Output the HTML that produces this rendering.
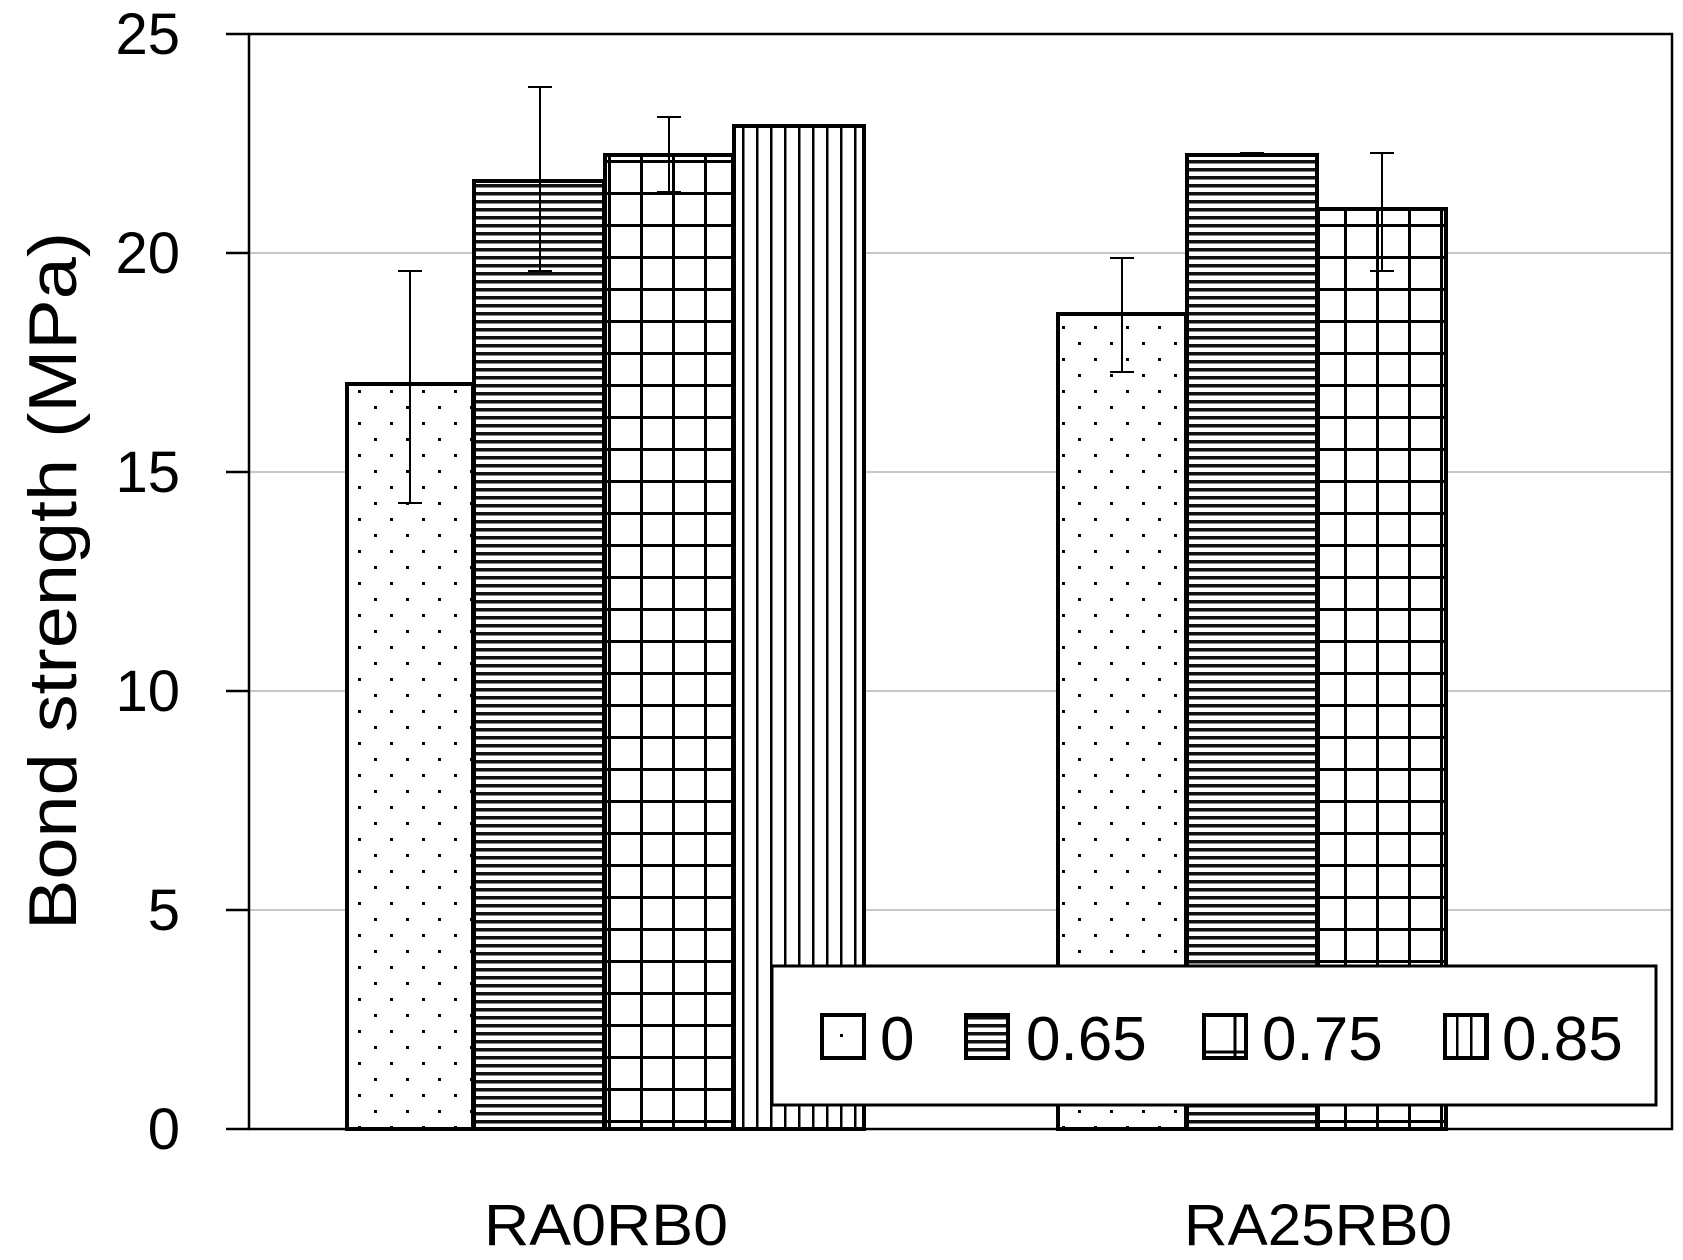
<!DOCTYPE html>
<html><head><meta charset="utf-8"><style>
html,body{margin:0;padding:0;background:#fff}
svg{display:block}
text{font-family:"Liberation Sans",sans-serif;fill:#000}
</style></head><body>
<svg width="1683" height="1260" viewBox="0 0 1683 1260" xmlns="http://www.w3.org/2000/svg">
<defs>
<pattern id="dots" width="32" height="32" patternUnits="userSpaceOnUse">
<rect width="32" height="32" fill="#fff"/>
<rect x="6" y="6" width="3" height="3" fill="#000"/>
<rect x="22" y="22" width="3" height="3" fill="#000"/>
</pattern>
<pattern id="hlines" width="10" height="8" patternUnits="userSpaceOnUse">
<rect width="10" height="8" fill="#fff"/>
<rect y="0" width="10" height="3.5" fill="#111"/>
</pattern>
<pattern id="grid" width="32" height="32" patternUnits="userSpaceOnUse">
<rect width="32" height="32" fill="#fff"/>
<rect x="0" y="0" width="32" height="3" fill="#000"/>
<rect x="0" y="0" width="3" height="32" fill="#000"/>
</pattern>
<pattern id="vlines" width="14" height="10" patternUnits="userSpaceOnUse">
<rect width="14" height="10" fill="#fff"/>
<rect x="0" y="0" width="2.5" height="10" fill="#000"/>
</pattern>
</defs>
<g stroke="#c8c8c8" stroke-width="2">
<line x1="249" x2="1672" y1="910" y2="910"/>
<line x1="249" x2="1672" y1="691" y2="691"/>
<line x1="249" x2="1672" y1="472" y2="472"/>
<line x1="249" x2="1672" y1="253" y2="253"/>
</g>
<g stroke="#000" stroke-width="4">
<rect x="347" y="384" width="126" height="745" fill="url(#dots)"/>
<rect x="474" y="181" width="130" height="948" fill="url(#hlines)"/>
<rect x="605" y="155" width="128" height="974" fill="url(#grid)"/>
<rect x="734" y="126" width="130" height="1003" fill="url(#vlines)"/>
<rect x="1058" y="314" width="128" height="815" fill="url(#dots)"/>
<rect x="1187" y="155" width="130" height="974" fill="url(#hlines)"/>
<rect x="1318" y="209" width="128" height="920" fill="url(#grid)"/>
</g>
<g stroke="#000" stroke-width="2">
<line x1="410" x2="410" y1="271" y2="503"/><line x1="398" x2="422" y1="271" y2="271"/><line x1="398" x2="422" y1="503" y2="503"/>
<line x1="540" x2="540" y1="87" y2="271"/><line x1="528" x2="552" y1="87" y2="87"/><line x1="528" x2="552" y1="271" y2="271"/>
<line x1="669" x2="669" y1="117" y2="192"/><line x1="657" x2="681" y1="117" y2="117"/><line x1="657" x2="681" y1="192" y2="192"/>
<line x1="1122" x2="1122" y1="258" y2="372"/><line x1="1110" x2="1134" y1="258" y2="258"/><line x1="1110" x2="1134" y1="372" y2="372"/>
<line x1="1252" x2="1252" y1="153" y2="157"/><line x1="1240" x2="1264" y1="153" y2="153"/>
<line x1="1382" x2="1382" y1="153" y2="271"/><line x1="1370" x2="1394" y1="153" y2="153"/><line x1="1370" x2="1394" y1="271" y2="271"/>
</g>
<rect x="249" y="34" width="1423" height="1095" fill="none" stroke="#000" stroke-width="2.5"/>
<g stroke="#000" stroke-width="2.5">
<line x1="226" x2="249" y1="34" y2="34"/><line x1="226" x2="249" y1="253" y2="253"/>
<line x1="226" x2="249" y1="472" y2="472"/><line x1="226" x2="249" y1="691" y2="691"/>
<line x1="226" x2="249" y1="910" y2="910"/><line x1="226" x2="249" y1="1129" y2="1129"/>
</g>
<g font-size="58" text-anchor="end">
<text x="180" y="54">25</text>
<text x="180" y="273">20</text>
<text x="180" y="492">15</text>
<text x="180" y="711">10</text>
<text x="180" y="930">5</text>
<text x="180" y="1149">0</text>
</g>
<text transform="translate(76 581) rotate(-90)" font-size="68" text-anchor="middle" textLength="698" lengthAdjust="spacingAndGlyphs">Bond strength (MPa)</text>
<g font-size="58" text-anchor="middle">
<text x="606" y="1245" textLength="244" lengthAdjust="spacingAndGlyphs">RA0RB0</text>
<text x="1318" y="1245" textLength="268" lengthAdjust="spacingAndGlyphs">RA25RB0</text>
</g>
<rect x="772" y="966" width="884" height="139" fill="#fff" stroke="#000" stroke-width="3"/>
<g stroke="#000" stroke-width="4">
<rect x="822" y="1015" width="42" height="43" fill="#fff"/>
<rect x="966" y="1015" width="42" height="43" fill="url(#hlines)"/>
<rect x="1204" y="1015" width="42" height="43" fill="#fff"/>
<rect x="1445" y="1015" width="42" height="43" fill="url(#vlines)"/>
</g>
<rect x="840" y="1034" width="3" height="3" fill="#000"/>
<line x1="1235" x2="1235" y1="1015" y2="1058" stroke="#000" stroke-width="3"/>
<line x1="1204" x2="1246" y1="1052" y2="1052" stroke="#000" stroke-width="3"/>
<g font-size="62">
<text x="880" y="1060">0</text>
<text x="1026" y="1060">0.65</text>
<text x="1262" y="1060">0.75</text>
<text x="1502" y="1060">0.85</text>
</g>
</svg>
</body></html>
